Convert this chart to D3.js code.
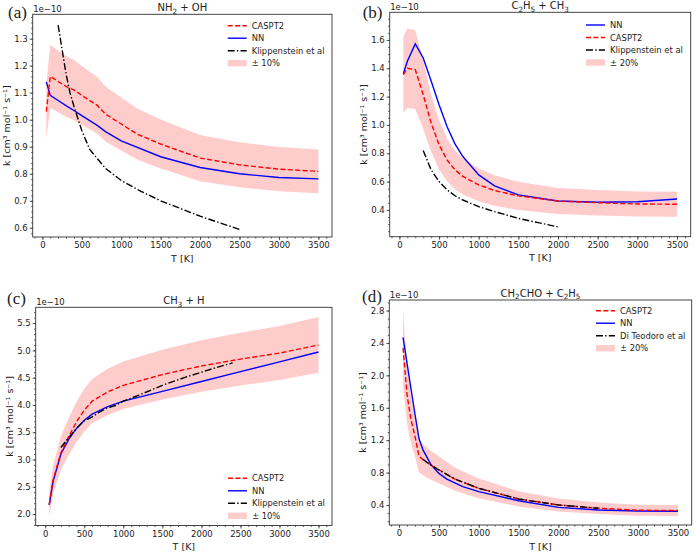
<!DOCTYPE html>
<html>
<head>
<meta charset="utf-8">
<script src="https://cdn.jsdelivr.net/npm/d3@7"></script>
<style>
  body { margin: 0; background: #fff; }
  svg text { font-family: "DejaVu Sans", sans-serif; fill: #222; }
</style>
</head>
<body>
<svg id="fig" width="696" height="553"></svg>
<script>
// ---- data (k in units of 1e-10 cm3 mol-1 s-1, T in K) ----
const xTicks = [0, 500, 1000, 1500, 2000, 2500, 3000, 3500];

// (a) NH2 + OH
const tCasA = [50, 100, 300, 400, 500, 700, 800, 1000, 1200, 1500, 2000, 2500, 3000, 3500];
const casA  = [1.03, 1.16, 1.123, 1.11, 1.09, 1.052, 1.021, 0.984, 0.947, 0.91, 0.858, 0.833, 0.817, 0.809];
const tNnA  = [50, 100, 200, 300, 400, 500, 700, 800, 1000, 1500, 2000, 2500, 3000, 3500];
const nnA   = [1.14, 1.09, 1.071, 1.052, 1.034, 1.015, 0.978, 0.956, 0.922, 0.863, 0.823, 0.80, 0.786, 0.781];
const tRefA = [200, 250, 300, 350, 400, 500, 600, 800, 1000, 1250, 1500, 2000, 2500];
const refA  = [1.35, 1.26, 1.17, 1.10, 1.05, 0.96, 0.89, 0.82, 0.775, 0.735, 0.70, 0.643, 0.594];
const yTicksA = [0.6, 0.7, 0.8, 0.9, 1.0, 1.1, 1.2, 1.3];

// (b) C2H5 + CH3
const tB    = [50, 100, 200, 300, 400, 500, 600, 700, 800, 1000, 1200, 1500, 2000, 2500, 3000, 3500];
const nnB   = [1.362, 1.449, 1.572, 1.473, 1.31, 1.142, 0.989, 0.866, 0.777, 0.647, 0.57, 0.506, 0.463, 0.454, 0.458, 0.477];
const casB  = [1.355, 1.40, 1.39, 1.213, 1.013, 0.86, 0.753, 0.683, 0.636, 0.577, 0.537, 0.499, 0.463, 0.451, 0.442, 0.44];
const tRefB = [300, 400, 500, 600, 700, 800, 1000, 1200, 1500, 1750, 2000];
const refB  = [0.819, 0.683, 0.60, 0.542, 0.50, 0.47, 0.423, 0.388, 0.34, 0.31, 0.28];
const yTicksB = [0.4, 0.6, 0.8, 1.0, 1.2, 1.4, 1.6];

// (c) CH3 + H
const tC    = [50, 100, 200, 300, 400, 500, 600, 800, 1000, 1500, 2000, 2500, 3000, 3500];
const casC  = [2.17, 2.62, 3.12, 3.42, 3.69, 3.905, 4.07, 4.24, 4.36, 4.557, 4.715, 4.84, 4.95, 5.10];
const nnC   = [2.17, 2.60, 3.10, 3.37, 3.57, 3.72, 3.83, 3.97, 4.07, 4.25, 4.43, 4.61, 4.79, 4.97];
const tRefC = [200, 300, 400, 500, 600, 700, 800, 900, 1000, 1200, 1500, 1800, 2000, 2200, 2400];
const refC  = [3.22, 3.40, 3.57, 3.71, 3.78, 3.875, 3.95, 3.99, 4.07, 4.18, 4.36, 4.51, 4.60, 4.69, 4.77];
const yTicksC = [2.0, 2.5, 3.0, 3.5, 4.0, 4.5, 5.0, 5.5];

// (d) CH2CHO + C2H5
const tCasD = [50, 100, 150, 200, 250, 300, 400, 500, 700, 1000, 1500, 2000, 2500, 3000, 3500];
const casD  = [2.34, 1.76, 1.45, 1.25, 1.00, 0.96, 0.89, 0.835, 0.72, 0.605, 0.475, 0.40, 0.36, 0.335, 0.332];
const tNnD  = [50, 100, 150, 200, 250, 300, 400, 500, 600, 800, 1000, 1500, 2000, 2500, 3000, 3500];
const nnD   = [2.47, 2.15, 1.83, 1.52, 1.22, 1.08, 0.90, 0.79, 0.72, 0.626, 0.565, 0.453, 0.371, 0.338, 0.325, 0.322];
const tRefD = [300, 400, 500, 700, 1000, 1500, 2000, 2500];
const refD  = [0.964, 0.89, 0.832, 0.721, 0.606, 0.474, 0.40, 0.359];
const yTicksD = [0.4, 0.8, 1.2, 1.6, 2.0, 2.4, 2.8];

const zip = (xs, ys) => xs.map((t, i) => ({ t: t, k: ys[i] }));

// ---- panels: layout + which series go where ----
const panels = [
  { tag: "(a)", tagAt: [8, 17.5], title: "NH2 + OH", box: [32.7, 14.3, 332, 237], yDom: [0.566, 1.39],
    yTicks: yTicksA, yMinor: 0.02, band: 0.10,
    cas: zip(tCasA, casA), nn: zip(tNnA, nnA), ref: zip(tRefA, refA),
    legend: { x: 227.7, y: 25.7, order: ["cas", "nn", "ref", "band"], refName: "Klippenstein et al" } },
  { tag: "(b)", tagAt: [362.7, 18], title: "C2H5 + CH3", box: [389.7, 12.3, 690.7, 236.7], yDom: [0.211, 1.795],
    yTicks: yTicksB, yMinor: 0.05, band: 0.20,
    cas: zip(tB, casB), nn: zip(tB, nnB), ref: zip(tRefB, refB),
    legend: { x: 586, y: 25, order: ["nn", "cas", "ref", "band"], refName: "Klippenstein et al" } },
  { tag: "(c)", tagAt: [7, 303.5], title: "CH3 + H", box: [35.7, 307.3, 332, 525.5], yDom: [1.79, 5.79],
    yTicks: yTicksC, yMinor: 0.1, band: 0.10,
    cas: zip(tC, casC), nn: zip(tC, nnC), ref: zip(tRefC, refC),
    legend: { x: 228, y: 478.3, order: ["cas", "nn", "ref", "band"], refName: "Klippenstein et al" } },
  { tag: "(d)", tagAt: [362, 302], title: "CH2CHO + C2H5", box: [389.3, 300, 691.7, 525], yDom: [0.153, 2.93],
    yTicks: yTicksD, yMinor: 0.1, band: 0.20,
    cas: zip(tCasD, casD), nn: zip(tNnD, nnD), ref: zip(tRefD, refD),
    legend: { x: 596, y: 310.7, order: ["cas", "nn", "ref", "band"], refName: "Di Teodoro et al" } }
];

const styles = {
  cas: { stroke: "#ff0000", dash: "5,2.4" },
  nn:  { stroke: "#0000ff", dash: null },
  ref: { stroke: "#000000", dash: "7,2.2,1.4,2.2" }
};

// chemical formula: digits become subscripts
function formula(sel, s) {
  let down = false;
  s.split(/(\d+)/).filter(d => d !== "").forEach(part => {
    const isSub = /^\d+$/.test(part);
    const ts = sel.append("tspan").text(part);
    if (isSub) { ts.attr("dy", down ? null : 2.4).style("font-size", "7.2px"); down = true; }
    else { if (down) ts.attr("dy", -2.4); down = false; }
  });
}

const svg = d3.select("#fig");

panels.forEach(p => {
  const [x0, y0, x1, y1] = p.box;
  const x = d3.scaleLinear().domain([-122.5, 3672.5]).range([x0, x1]);
  const y = d3.scaleLinear().domain(p.yDom).range([y1, y0]);
  const g = svg.append("g");

  // +-band around CASPT2
  const area = d3.area()
    .x(d => x(d.t))
    .y0(d => y(d.k * (1 - p.band)))
    .y1(d => y(d.k * (1 + p.band)));
  g.append("path").datum(p.cas)
    .attr("d", area)
    .attr("fill", "#ff0000").attr("fill-opacity", 0.2);

  const line = d3.line().x(d => x(d.t)).y(d => y(d.k));
  ["nn", "cas", "ref"].forEach(key => {
    g.append("path").datum(p[key])
      .attr("d", line)
      .attr("fill", "none")
      .attr("stroke", styles[key].stroke)
      .attr("stroke-width", 1.4)
      .attr("stroke-dasharray", styles[key].dash);
  });

  // axes
  const xAxis = d3.axisBottom(x).tickValues(xTicks).tickSize(3).tickPadding(2).tickFormat(d3.format("d"));
  const xMinor = d3.axisBottom(x).tickValues(d3.range(-100, 3601, 100)).tickSize(1.6).tickFormat("");
  const yAxis = d3.axisLeft(y).tickValues(p.yTicks).tickSize(3).tickPadding(2).tickFormat(d3.format(".1f"));
  const yMin = d3.range(Math.ceil(p.yDom[0] / p.yMinor) * p.yMinor, p.yDom[1], p.yMinor);
  const yMinor = d3.axisLeft(y).tickValues(yMin).tickSize(1.6).tickFormat("");

  [[xMinor, "translate(0," + y1 + ")"], [xAxis, "translate(0," + y1 + ")"],
   [yMinor, "translate(" + x0 + ",0)"], [yAxis, "translate(" + x0 + ",0)"]].forEach(([ax, tr]) => {
    const a = g.append("g").attr("transform", tr).call(ax);
    a.select(".domain").remove();
    a.selectAll("line").attr("stroke", "#333").attr("stroke-width", 0.8);
    a.selectAll("text").style("font-size", "8.5px").attr("fill", "#222");
  });

  g.append("rect")
    .attr("x", x0).attr("y", y0).attr("width", x1 - x0).attr("height", y1 - y0)
    .attr("fill", "none").attr("stroke", "#333").attr("stroke-width", 0.9);

  // texts
  const cx = (x0 + x1) / 2, cy = (y0 + y1) / 2;
  const title = g.append("text").attr("x", cx).attr("y", y0 - 3.2).attr("text-anchor", "middle")
    .style("font-size", "10px");
  formula(title, p.title);
  g.append("text").attr("x", x0 + 0.5).attr("y", y0 - 2.5).style("font-size", "8.5px").text("1e\u221210");
  g.append("text").attr("x", p.tagAt[0]).attr("y", p.tagAt[1])
    .style("font-family", "'Liberation Serif', serif").style("font-size", "17px").attr("fill", "#111")
    .text(p.tag);
  g.append("text").attr("x", cx).attr("y", y1 + 24.5).attr("text-anchor", "middle")
    .style("font-size", "9.5px").text("T [K]");
  g.append("text").attr("transform", "translate(" + (x0 - 23) + "," + cy + ") rotate(-90)")
    .attr("text-anchor", "middle").style("font-size", "9.5px")
    .text("k [cm\u00b3 mol\u207b\u00b9 s\u207b\u00b9]");

  // legend
  const names = { cas: "CASPT2", nn: "NN", ref: p.legend.refName, band: "\u00b1 " + Math.round(p.band * 100) + "%" };
  p.legend.order.forEach((key, i) => {
    const ly = p.legend.y + i * 12.5;
    if (key === "band") {
      g.append("rect").attr("x", p.legend.x).attr("y", ly - 3.2).attr("width", 19).attr("height", 6.4)
        .attr("fill", "#ff0000").attr("fill-opacity", 0.2);
    } else {
      g.append("line").attr("x1", p.legend.x).attr("x2", p.legend.x + 19).attr("y1", ly).attr("y2", ly)
        .attr("stroke", styles[key].stroke).attr("stroke-width", 1.4)
        .attr("stroke-dasharray", styles[key].dash);
    }
    g.append("text").attr("x", p.legend.x + 24).attr("y", ly + 3.1).style("font-size", "8.4px").text(names[key]);
  });
});
</script>
</body>
</html>
